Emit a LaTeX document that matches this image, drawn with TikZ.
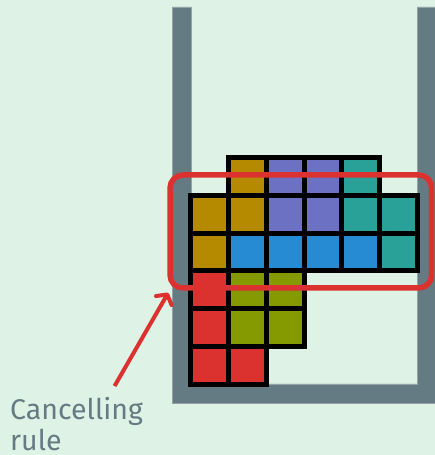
\documentclass[tikz,border=0pt]{standalone}
\usepackage{fontspec}
\setmainfont{Fira Sans}
\usepackage{xcolor}
\usetikzlibrary{arrows.meta,positioning}

\definecolor{bgmint}{HTML}{DFF2E6}
\definecolor{wallgray}{HTML}{657B83}
\definecolor{solgold}{HTML}{B58900}
\definecolor{solviolet}{HTML}{6C71C4}
\definecolor{solcyan}{HTML}{2AA198}
\definecolor{solblue}{HTML}{268BD2}
\definecolor{solgreen}{HTML}{859900}
\definecolor{solred}{HTML}{DC322F}

\begin{document}
\begin{tikzpicture}[
    x=1pt, y=1pt,
    cell/.style={draw=black, line width=5pt, minimum size=37.77pt, inner sep=0pt, outer sep=0pt},
    wall/.style={fill=wallgray, draw=wallgray!70!white, line width=0.6pt},
    cancelbox/.style={draw=solred, line width=5.5pt, rounded corners=13pt, minimum width=261.7pt, minimum height=113pt, inner sep=0pt},
    cancelarrow/.style={-{Straight Barb[length=7pt, width=18pt, round]}, draw=solred, line width=4pt},
    caption/.style={font=\fontsize{28.5}{31}\selectfont, text=wallgray, align=left, inner sep=0pt}
]
\useasboundingbox (0,0) rectangle (435,455);
\fill[bgmint] (0,0) rectangle (435,455);

% container
\filldraw[wall] (172,448) -- (191,448) -- (191,71) -- (417,71) -- (417,448) -- (436,448)
    -- (436,52) -- (172,52) -- cycle;

% pieces
\foreach \c/\r/\col in {1/5/solgold, 2/5/solviolet, 3/5/solviolet, 4/5/solcyan,
    0/4/solgold, 1/4/solgold, 2/4/solviolet, 3/4/solviolet, 4/4/solcyan, 5/4/solcyan,
    0/3/solgold, 1/3/solblue, 2/3/solblue, 3/3/solblue, 4/3/solblue, 5/3/solcyan,
    0/2/solred, 1/2/solgreen, 2/2/solgreen,
    0/1/solred, 1/1/solgreen, 2/1/solgreen,
    0/0/solred, 1/0/solred}
    \node[cell, fill=\col] (c\c-\r) at ({190.7+37.77*(\c+0.5)},{70.7+37.77*(\r+0.5)}) {};

\node[cancelbox] (cancel) at (300.85,223.5) {};

\node[caption, anchor=south west] (label) at (10,4) {Cancelling\\rule};
\draw[cancelarrow] ([xshift=38pt, yshift=11pt]label.north) -- ([xshift=1pt, yshift=-2pt]cancel.south west);

\end{tikzpicture}
\end{document}
